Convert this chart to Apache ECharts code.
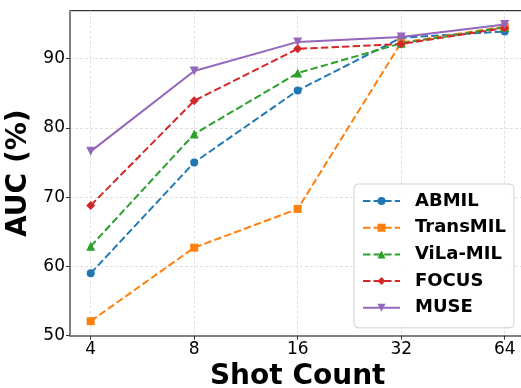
<!DOCTYPE html>
<html><head><meta charset="utf-8">
<script src="https://cdn.jsdelivr.net/npm/echarts@6/dist/echarts.min.js"></script>
<style>html,body{margin:0;padding:0;background:#fff}#c{width:521px;height:388px}</style>
</head><body><div id="c"></div>
<script>
const shots = ['4', '8', '16', '32', '64'];
const yTicks = [50, 60, 70, 80, 90];
const abmil = [59.0, 75.0, 85.4, 93.0, 93.9];
const transmil = [52.1, 62.7, 68.3, 92.3, 94.6];
const vilamil = [62.9, 79.1, 87.9, 92.2, 94.5];
const focus = [68.8, 83.9, 91.4, 92.1, 94.4];
const muse = [76.6, 88.2, 92.4, 93.1, 94.9];

const names = ['ABMIL', 'TransMIL', 'ViLa-MIL', 'FOCUS', 'MUSE'];
const values = [abmil, transmil, vilamil, focus, muse];
const colors = ['#1f77b4', '#ff7f0e', '#2ca02c', '#d62728', '#9467bd'];
const symbols = ['circle', 'rect', 'triangle', 'diamond', 'triangle'];
const rotates = [0, 0, 0, 0, 180];
const sizes = [8, 8, 9, 9, 9];
const xIdx = shots.map((s, i) => i);

const font = 'DejaVu Sans';
const chart = echarts.init(document.getElementById('c'));
chart.setOption({
  animation: false,
  backgroundColor: '#fff',
  grid: { left: 70, top: 10.7, right: -4.4, bottom: 52.3, outerBoundsMode: 'none', containLabel: false, show: true, borderColor: '#000', borderWidth: 1, backgroundColor: 'transparent' },
  xAxis: {
    type: 'value', min: -0.2, max: 4.2,
    name: 'Shot Count', nameLocation: 'middle', nameGap: 22,
    nameTextStyle: { fontFamily: font, fontWeight: 'bold', fontSize: 28, color: '#000' },
    axisLine: { show: true, onZero: false, lineStyle: { color: '#808080', width: 2 } },
    axisTick: { show: true, length: 4, lineStyle: { color: '#333', width: 1 }, customValues: xIdx },
    axisLabel: { customValues: xIdx, formatter: v => shots[Math.round(v)], fontFamily: font, fontSize: 17, color: '#000', margin: 5 },
    splitLine: { show: true, customValues: xIdx, lineStyle: { color: '#d9d9d9', type: [3, 2], width: 0.8 } }
  },
  yAxis: {
    type: 'value', min: 50, max: 96.9, interval: 10,
    name: 'AUC (%)', nameLocation: 'middle', nameGap: 31,
    nameTextStyle: { fontFamily: font, fontWeight: 'bold', fontSize: 28, color: '#000' },
    axisLine: { show: true, onZero: false, lineStyle: { color: '#808080', width: 2 } },
    axisTick: { show: true, length: 4, lineStyle: { color: '#333', width: 1 }, customValues: yTicks },
    axisLabel: { customValues: yTicks, fontFamily: font, fontSize: 17, color: '#000', margin: 5 },
    splitLine: { show: true, lineStyle: { color: '#d9d9d9', type: [3, 2], width: 0.8 } }
  },
  legend: {
    orient: 'vertical', left: 354, top: 184,
    backgroundColor: 'rgba(255,255,255,0.85)', borderColor: '#d0d0d0', borderWidth: 1, borderRadius: 4,
    padding: [8, 8, 11, 8], itemWidth: 37, itemHeight: 10, itemGap: 8.7,
    textStyle: { fontFamily: font, fontWeight: 'bold', fontSize: 18, color: '#000', padding: [0, 0, 0, 10] },
    data: names
  },
  series: names.map((n, i) => ({
    name: n, type: 'line',
    data: values[i].map((v, j) => [xIdx[j], v]),
    symbol: symbols[i], symbolSize: sizes[i], symbolRotate: rotates[i],
    itemStyle: { color: colors[i] },
    lineStyle: { color: colors[i], width: 2, type: i === 4 ? 'solid' : [7.4, 3.2] },
    z: 2 + i
  }))
});
</script></body></html>
